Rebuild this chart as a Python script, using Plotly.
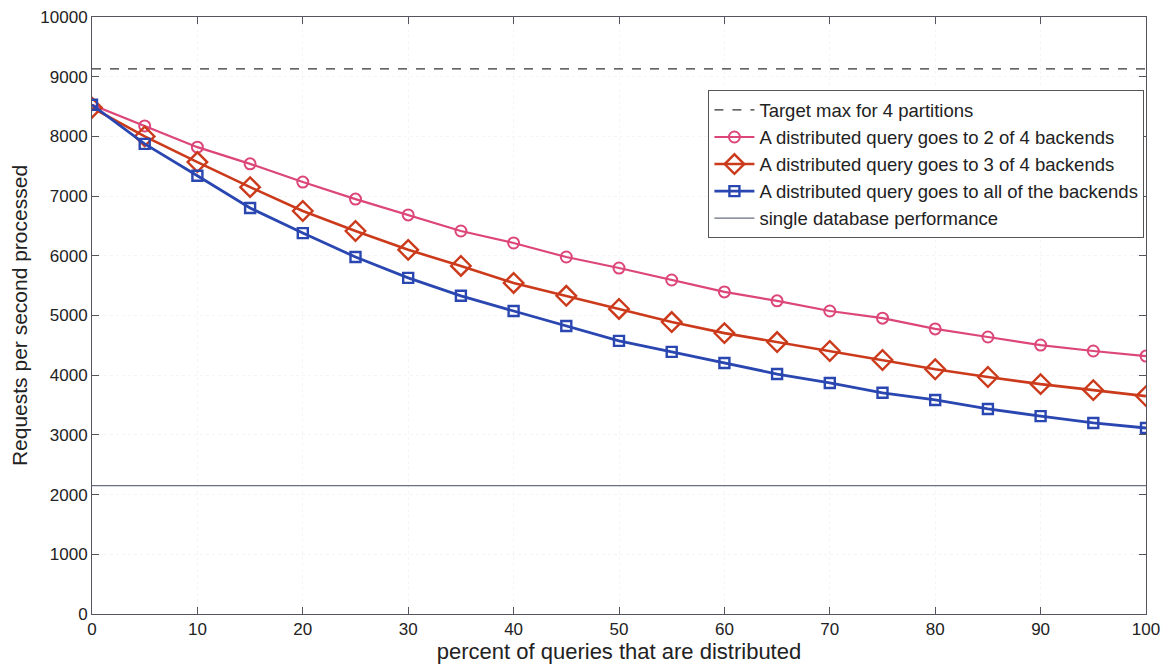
import plotly.graph_objects as go

x = [0, 5, 10, 15, 20, 25, 30, 35, 40, 45, 50, 55, 60, 65, 70, 75, 80, 85, 90, 95, 100]
two_of_four = [8530, 8175, 7820, 7540, 7235, 6950, 6685, 6415, 6215, 5980, 5795, 5595, 5395, 5245, 5075, 4955, 4775, 4640, 4505, 4405, 4320]
three_of_four = [8480, 8000, 7570, 7150, 6750, 6415, 6100, 5830, 5545, 5330, 5110, 4890, 4705, 4555, 4405, 4255, 4100, 3970, 3850, 3750, 3650]
all_backends = [8530, 7875, 7340, 6800, 6380, 5980, 5630, 5330, 5075, 4825, 4575, 4390, 4205, 4020, 3870, 3705, 3585, 3435, 3315, 3200, 3115]
target_max = 9130
single_db = 2150
x_range = [0, 100]
y_range = [0, 10000]

fig = go.Figure()
fig.add_trace(go.Scatter(x=x_range, y=[target_max, target_max], mode="lines",
                         name="Target max for 4 partitions",
                         line=dict(color="#333333", width=1.2, dash="dash")))
fig.add_trace(go.Scatter(x=x, y=two_of_four, mode="lines+markers",
                         name="A distributed query goes to 2 of 4 backends",
                         line=dict(color="#dc4678", width=2.2),
                         marker=dict(symbol="circle-open", size=11, color="#dc4678", line=dict(width=2))))
fig.add_trace(go.Scatter(x=x, y=three_of_four, mode="lines+markers",
                         name="A distributed query goes to 3 of 4 backends",
                         line=dict(color="#cc3a1c", width=2.6),
                         marker=dict(symbol="diamond-open", size=15, color="#cc3a1c", line=dict(width=2.4))))
fig.add_trace(go.Scatter(x=x, y=all_backends, mode="lines+markers",
                         name="A distributed query goes to all of the backends",
                         line=dict(color="#2a46b0", width=2.8),
                         marker=dict(symbol="square-open", size=10, color="#2a46b0", line=dict(width=2.4))))
fig.add_trace(go.Scatter(x=x_range, y=[single_db, single_db], mode="lines",
                         name="single database performance",
                         line=dict(color="#6a6f80", width=1.2)))

axis_common = dict(showline=True, linecolor="#555560", linewidth=1, mirror="ticks",
                   ticks="inside", ticklen=7, tickcolor="#555560",
                   showgrid=True, gridcolor="rgba(170,170,170,0.12)", griddash="dot", gridwidth=1,
                   zeroline=False, automargin=False, tickformat="d",
                   tickfont=dict(family="Liberation Sans, Arial", size=17, color="#222222"))

fig.update_layout(
    width=1162, height=666,
    margin=dict(l=92, r=16, t=17, b=52),
    paper_bgcolor="white", plot_bgcolor="white",
    font=dict(family="Liberation Sans, Arial", size=17, color="#222222"),
    showlegend=True,
    legend=dict(x=0.9985, y=0.877, xanchor="right", yanchor="top",
                bgcolor="white", bordercolor="#555555", borderwidth=1,
                font=dict(size=18.5), tracegroupgap=0, itemwidth=40),
)
fig.update_xaxes(range=x_range, dtick=10, **axis_common,
                 title=dict(text="percent of queries that are distributed",
                            font=dict(size=22), standoff=2))
fig.update_yaxes(range=y_range, dtick=1000, **axis_common,
                 title=dict(text="Requests per second processed",
                            font=dict(size=21), standoff=6))

fig.write_html("out.html")
